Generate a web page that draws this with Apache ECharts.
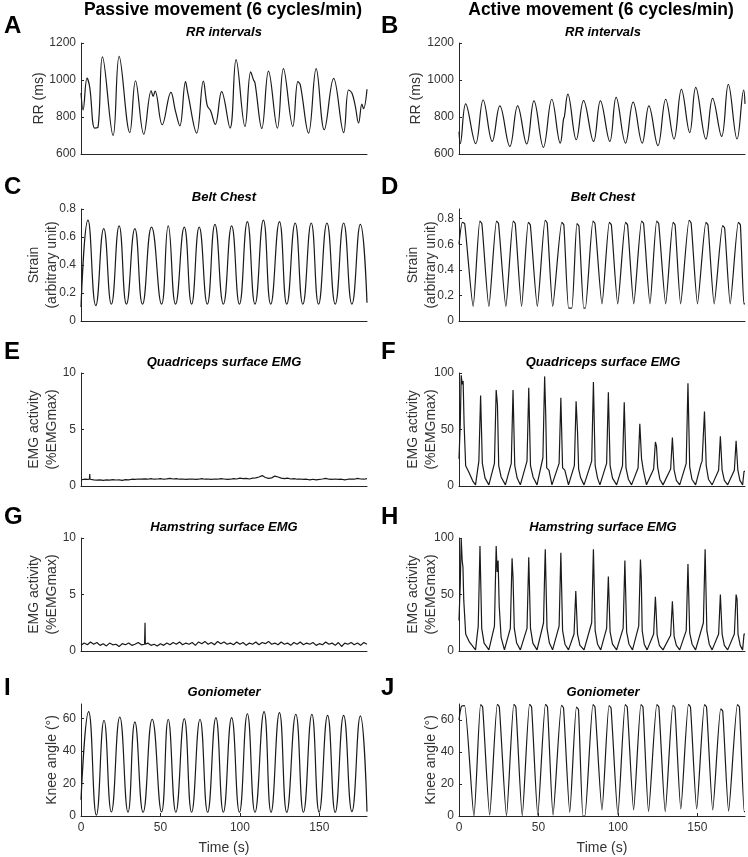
<!DOCTYPE html>
<html>
<head>
<meta charset="utf-8">
<script src="https://cdn.jsdelivr.net/npm/echarts@6/dist/echarts.min.js"></script>
<style>
  html, body { margin: 0; padding: 0; background: #fff; }
  #chart { width: 748px; height: 857px; }
</style>
</head>
<body>
<div id="chart"></div>
<script>
// ---- tick labels ----
const timeTicks = [0, 50, 100, 150];
const rrTicks = [600, 800, 1000, 1200];
const strainTicks = [0, 0.2, 0.4, 0.6, 0.8];
const emgPassiveTicks = [0, 5, 10];
const emgActiveTicks = [0, 50, 100];
const kneeTicks = [0, 20, 40, 60];

// ---- text ----
const columnTitles = ['Passive movement (6 cycles/min)', 'Active movement (6 cycles/min)'];
const panelLetters = ['A', 'B', 'C', 'D', 'E', 'F', 'G', 'H', 'I', 'J'];
const panelTitles = ['RR intervals', 'Belt Chest', 'Quadriceps surface EMG', 'Hamstring surface EMG', 'Goniometer'];

// ---- series, [time s, value] ----
const rrPassive = [
  [0, 930], [1.3, 838], [3.8, 1010], [5.5, 960], [8.6, 740], [10.7, 745], [13.5, 1125], [20.2, 700],
  [24.0, 1128], [30.7, 716], [34.3, 996], [39.5, 707], [44.2, 942], [45.4, 912], [46.6, 940], [51.1, 758],
  [56.6, 933], [59.5, 830], [62.2, 752], [65.8, 991], [67.2, 930], [72.8, 713], [77.0, 994], [79.5, 860],
  [81.5, 835], [84.5, 760], [88.5, 937], [93.8, 740], [97.6, 1110], [103.2, 749], [106.8, 1044], [108.6, 1000],
  [109.5, 985], [113.8, 738], [118.0, 1048], [123.6, 740], [127.4, 1062], [133.3, 749], [136.5, 991], [138.0, 975],
  [143.2, 713], [148.0, 1062], [153.1, 731], [159.0, 1009], [165.3, 716], [168.4, 946], [170.5, 930], [172.6, 860],
  [174.7, 767], [176.8, 870], [177.8, 845], [180, 950]
];
const rrActive = [
  [0, 720], [0.8, 656], [4.2, 871], [10.5, 656], [15.2, 892], [20.9, 668], [25.7, 860], [32.0, 641],
  [36.9, 860], [42.6, 654], [47.2, 887], [53.1, 636], [58.4, 896], [63.7, 659], [65.8, 790], [66.3, 800],
  [68.5, 924], [73.8, 677], [78.4, 889], [84.7, 668], [89.0, 887], [94.9, 668], [98.9, 906], [104.8, 659],
  [109.6, 880], [115.3, 659], [119.5, 860], [125.2, 645], [130.1, 896], [135.3, 681], [140.0, 949], [145.2, 716],
  [149.0, 960], [155.4, 681], [159.6, 901], [165.3, 695], [169.5, 976], [175.0, 681], [179.2, 946], [180, 871]
];
const beltPassive = [
  [0, 0.1], [4.4, 0.72], [9.3, 0.11], [14.3, 0.66], [19.1, 0.12], [24.0, 0.68], [28.6, 0.12], [33.9, 0.66],
  [38.7, 0.12], [44.4, 0.67], [50.7, 0.12], [54.9, 0.68], [59.5, 0.12], [65.0, 0.67], [69.6, 0.12], [74.4, 0.67],
  [79.5, 0.12], [84.3, 0.69], [89.6, 0.12], [94.8, 0.68], [99.7, 0.12], [104.7, 0.71], [109.5, 0.12], [114.8, 0.72],
  [119.4, 0.12], [124.9, 0.71], [129.5, 0.12], [134.8, 0.70], [139.6, 0.12], [144.9, 0.70], [149.5, 0.12], [154.8, 0.70],
  [160.0, 0.12], [165.3, 0.70], [170.5, 0.12], [175.8, 0.69], [180, 0.13]
];
const beltActive = [
  [0, 0.6], [2.1, 0.77], [3.6, 0.76], [8.9, 0.114], [13.1, 0.78], [14.4, 0.76], [18.8, 0.114], [23.6, 0.78],
  [24.9, 0.76], [29.5, 0.114], [34.1, 0.78], [35.4, 0.76], [39.4, 0.114], [43.6, 0.77], [44.9, 0.75], [49.3, 0.114],
  [54.2, 0.787], [55.5, 0.765], [59.0, 0.114], [64.7, 0.77], [66.0, 0.75], [69.0, 0.10], [71.0, 0.10], [74.2, 0.76],
  [75.5, 0.74], [78.5, 0.10], [79.5, 0.10], [84.3, 0.78], [85.6, 0.76], [90.0, 0.134], [94.6, 0.77], [95.9, 0.75],
  [99.9, 0.134], [104.8, 0.77], [106.1, 0.75], [110.0, 0.134], [114.9, 0.78], [116.2, 0.76], [120.2, 0.134], [124.4, 0.78],
  [125.7, 0.76], [130.1, 0.134], [134.7, 0.77], [136.0, 0.75], [139.5, 0.134], [144.8, 0.787], [146.1, 0.765], [150.1, 0.134],
  [155.4, 0.77], [156.7, 0.75], [160.6, 0.134], [165.9, 0.745], [167.2, 0.725], [170.7, 0.134], [175.8, 0.77], [177.1, 0.75],
  [179.3, 0.134], [180, 0.134]
];
// passive EMG: one value every 2 s from 0 to 180, plus isolated spikes
const emgQuadPassive = [
  0.55, 0.60, 0.58, 0.60, 0.55, 0.52, 0.55, 0.50, 0.55, 0.52,
  0.56, 0.53, 0.55, 0.50, 0.56, 0.55, 0.60, 0.58, 0.62, 0.60,
  0.63, 0.60, 0.66, 0.60, 0.62, 0.65, 0.60, 0.63, 0.68, 0.62,
  0.65, 0.60, 0.62, 0.58, 0.60, 0.62, 0.58, 0.60, 0.65, 0.60,
  0.62, 0.58, 0.62, 0.60, 0.66, 0.62, 0.58, 0.60, 0.65, 0.62,
  0.70, 0.65, 0.68, 0.62, 0.70, 0.72, 0.80, 0.92, 0.75, 0.68,
  0.72, 0.88, 0.80, 0.70, 0.65, 0.70, 0.62, 0.65, 0.60, 0.62,
  0.58, 0.60, 0.55, 0.60, 0.55, 0.58, 0.62, 0.68, 0.60, 0.58,
  0.62, 0.58, 0.60, 0.55, 0.60, 0.62, 0.60, 0.68, 0.62, 0.60,
  0.65
];
const emgQuadPassiveSpikes = [[5.3, 0.6], [5.5, 1.05], [5.7, 0.6]];
const emgHamPassive = [
  0.50, 0.70, 0.55, 0.80, 0.60, 0.75, 0.50, 0.65, 0.45, 0.70,
  0.55, 0.60, 0.40, 0.65, 0.55, 0.70, 0.50, 0.60, 0.75, 0.55,
  0.60, 0.70, 0.50, 0.60, 0.45, 0.65, 0.50, 0.70, 0.55, 0.75,
  0.60, 0.80, 0.55, 0.70, 0.60, 0.75, 0.50, 0.80, 0.65, 0.85,
  0.60, 0.75, 0.55, 0.85, 0.65, 0.80, 0.60, 0.70, 0.55, 0.80,
  0.60, 0.75, 0.50, 0.70, 0.60, 0.80, 0.55, 0.75, 0.65, 0.85,
  0.60, 0.70, 0.55, 0.80, 0.60, 0.70, 0.50, 0.75, 0.60, 0.80,
  0.55, 0.70, 0.60, 0.75, 0.50, 0.65, 0.55, 0.80, 0.60, 0.70,
  0.50, 0.75, 0.40, 0.70, 0.60, 0.75, 0.55, 0.70, 0.50, 0.75,
  0.60
];
const emgHamPassiveSpikes = [[40.1, 0.6], [40.3, 2.5], [40.5, 0.6]];
const emgQuadActive = [
  [0, 24], [0.8, 55], [1.4, 98], [2.0, 90], [2.6, 93], [3.2, 55], [4.2, 18], [6.3, 12], [8.8, 4], [10.4, 1],
  [12.5, 22], [13.6, 80], [14.7, 20], [16.4, 7], [18.8, 1],
  [22.3, 20], [23.4, 85], [24.2, 72], [25.0, 18], [26.5, 8], [29.2, 1],
  [32.9, 20], [34.0, 85], [35.1, 18], [36.6, 7], [38.6, 1],
  [42.8, 22], [43.9, 87], [45.0, 18], [46.6, 8], [49.1, 1],
  [52.8, 25], [53.9, 97], [54.6, 62], [55.2, 16], [56.6, 14], [58.5, 1],
  [63.0, 20], [64.1, 78], [65.2, 16], [66.6, 14], [68.9, 1],
  [72.6, 18], [73.7, 75], [74.6, 48], [75.3, 15], [76.6, 7], [78.7, 1],
  [83.5, 22], [84.6, 92], [85.7, 18], [87.2, 7], [88.7, 1],
  [92.9, 20], [94.0, 83], [95.1, 18], [96.6, 7], [99.2, 1],
  [102.9, 18], [104.0, 74], [105.1, 16], [106.6, 6], [108.6, 1],
  [112.7, 16], [113.8, 55], [114.9, 24], [116.0, 14], [118.0, 1],
  [122.5, 15], [123.6, 39], [124.3, 35], [125.0, 17], [126.4, 6], [128.4, 1],
  [133.2, 15], [134.3, 43], [135.4, 14], [136.8, 5], [138.9, 1],
  [143.0, 20], [144.1, 91], [145.2, 17], [146.6, 6], [148.9, 1],
  [152.4, 20], [153.0, 22], [154.5, 66], [155.6, 18], [157.0, 6], [159.3, 1],
  [163.4, 14], [164.5, 44], [165.6, 14], [167.0, 5], [169.1, 1],
  [173.3, 14], [174.4, 40], [175.5, 14], [176.8, 5], [178.5, 1], [179.4, 13], [180, 13]
];
const emgHamActive = [
  [0, 27], [0.8, 60], [1.4, 99], [2.0, 80], [2.5, 74], [3.0, 45], [4.2, 15], [6.5, 8], [10.4, 1],
  [12.1, 22], [13.2, 93], [14.3, 20], [15.8, 7], [18.8, 1],
  [22.3, 22], [23.4, 93], [24.0, 70], [24.6, 80], [25.3, 40], [26.5, 12], [28.6, 1],
  [32.3, 20], [33.4, 82], [34.0, 65], [34.8, 20], [36.3, 7], [38.6, 1],
  [42.8, 20], [43.9, 83], [45.0, 20], [46.5, 7], [49.1, 1],
  [53.2, 25], [54.0, 75], [54.3, 90], [55.4, 20], [56.9, 7], [58.9, 1],
  [63.0, 22], [64.1, 87], [65.2, 18], [66.7, 6], [68.9, 1],
  [72.4, 15], [73.5, 53], [74.6, 15], [76.1, 5], [78.7, 1],
  [83.5, 25], [84.6, 90], [85.7, 18], [87.2, 6], [89.2, 1],
  [92.9, 20], [94.0, 66], [95.1, 17], [96.6, 6], [99.2, 1],
  [103.3, 20], [104.4, 80], [105.5, 17], [107.0, 6], [109.2, 1],
  [113.1, 22], [114.2, 81], [114.7, 65], [115.3, 18], [116.6, 6], [118.4, 1],
  [122.5, 15], [123.6, 48], [124.0, 37], [124.7, 14], [126.1, 5], [128.4, 1],
  [133.2, 14], [134.3, 44], [135.4, 13], [136.8, 5], [138.9, 1],
  [143.0, 18], [144.1, 77], [145.2, 16], [146.7, 6], [148.9, 1],
  [153.8, 25], [154.9, 90], [156.0, 18], [157.5, 6], [159.3, 1],
  [163.4, 15], [164.5, 50], [165.6, 15], [167.0, 5], [169.1, 1],
  [173.3, 15], [174.4, 50], [175.0, 46], [175.6, 15], [177.0, 5], [178.5, 1], [179.4, 15], [180, 15]
];
const kneePassive = [
  [0, 10], [4.8, 64.3], [9.7, 0.5], [14.5, 59], [19.1, 2.5], [24.4, 61], [29.6, 2.3], [33.9, 58],
  [39.1, 2.3], [44.8, 59.6], [50.7, 2.5], [54.9, 59.6], [59.7, 2.3], [65.0, 60], [69.6, 2.3], [74.9, 59.6],
  [79.7, 2.3], [84.9, 60.6], [89.6, 2.3], [94.8, 60.6], [99.7, 2.3], [104.7, 63], [109.5, 2.3], [115.2, 64.3],
  [119.6, 2.3], [124.9, 63.7], [129.5, 2.3], [135.2, 62.7], [140.0, 2.3], [145.3, 62.7], [149.9, 2.3], [155.2, 62],
  [160.0, 2.3], [165.3, 62], [170.5, 2.7], [175.8, 61.7], [180, 2.7]
];
const kneeActive = [
  [0, 60], [1.5, 68.5], [3.5, 69], [9.4, 0], [13.6, 69.6], [14.9, 68], [19.3, 0.6], [24.1, 69.8],
  [25.4, 68], [29.9, 0.2], [34.5, 69.8], [35.8, 68], [39.8, 0.2], [44.4, 69.8], [45.7, 68], [49.6, 0.5],
  [54.4, 69.8], [55.7, 68], [59.2, 0.5], [64.5, 69.2], [65.8, 67.5], [69.7, 2.3], [73.9, 68], [75.2, 66.5],
  [78.0, 0], [79.2, 0], [84.3, 69.6], [85.6, 68], [90.0, 3.8], [94.4, 69], [95.7, 67.5], [100.0, 1],
  [104.6, 69.6], [105.9, 68], [109.9, 3.8], [114.5, 69.6], [115.8, 68], [119.3, 2.7], [124.5, 69.6], [125.8, 68],
  [129.8, 2.7], [134.6, 69.2], [135.9, 67.5], [139.6, 4.4], [144.4, 69.8], [145.7, 68], [149.6, 4.4], [154.5, 69.6],
  [155.8, 68], [159.7, 3.8], [164.7, 67], [166.0, 65.5], [169.7, 3.1], [175.2, 69.6], [176.5, 68], [179.5, 2.7],
  [180, 2.7]
];

// passive EMG arrays are sampled every 2 s; merge in the spikes
function sampled(values, spikes) {
  const pts = values.map((v, i) => [i * 2, v]).concat(spikes);
  return pts.sort((a, b) => a[0] - b[0]);
}

// ---- layout ----
const colLeft = [81, 459];
const plotWidth = 286;
const rowTop = [43, 209, 373, 538, 704];
const rowHeight = [111, 112, 113, 113, 112];
const font = 'Liberation Sans, Arial, Helvetica, sans-serif';
const ink = '#262626';
const plain = v => String(v);

const panels = [
  { data: rrPassive, min: 600, max: 1200, ticks: rrTicks, name: 'RR (ms)', gap: 33, smooth: 0.4 },
  { data: rrActive, min: 600, max: 1200, ticks: rrTicks, name: 'RR (ms)', gap: 34, smooth: 0.4 },
  { data: beltPassive, min: 0, max: 0.8, ticks: strainTicks, name: 'Strain\n(arbitrary unit)', gap: 20, smooth: 0.5 },
  { data: beltActive, min: 0, max: 0.875, ticks: strainTicks, name: 'Strain\n(arbitrary unit)', gap: 19, smooth: 0.2 },
  { data: sampled(emgQuadPassive, emgQuadPassiveSpikes), min: 0, max: 10, ticks: emgPassiveTicks, name: 'EMG activity\n(%EMGmax)', gap: 20, smooth: false },
  { data: emgQuadActive, min: 0, max: 100, ticks: emgActiveTicks, name: 'EMG activity\n(%EMGmax)', gap: 19, smooth: false },
  { data: sampled(emgHamPassive, emgHamPassiveSpikes), min: 0, max: 10, ticks: emgPassiveTicks, name: 'EMG activity\n(%EMGmax)', gap: 20, smooth: false },
  { data: emgHamActive, min: 0, max: 100, ticks: emgActiveTicks, name: 'EMG activity\n(%EMGmax)', gap: 19, smooth: false },
  { data: kneePassive, min: 0, max: 69, ticks: kneeTicks, name: 'Knee angle (°)', gap: 20, smooth: 0.5, time: true },
  { data: kneeActive, min: 0, max: 70, ticks: kneeTicks, name: 'Knee angle (°)', gap: 19, smooth: 0.2, time: true }
];

const grids = [], xAxes = [], yAxes = [], series = [];
panels.forEach((p, i) => {
  const col = i % 2, row = Math.floor(i / 2);
  grids.push({ left: colLeft[col], top: rowTop[row], width: plotWidth, height: rowHeight[row] });
  xAxes.push({
    gridIndex: i, type: 'value', min: 0, max: 180,
    axisLine: { onZero: false, lineStyle: { color: ink, width: 1 } },
    axisTick: { show: !!p.time, inside: true, length: 3, customValues: timeTicks, lineStyle: { color: ink } },
    axisLabel: { show: !!p.time, customValues: timeTicks, formatter: plain, margin: 6, fontSize: 12, color: '#333', fontFamily: font },
    splitLine: { show: false },
    name: p.time ? 'Time (s)' : '', nameLocation: 'middle', nameGap: 25, nameMoveOverlap: false,
    nameTextStyle: { fontSize: 14, color: '#333', fontFamily: font }
  });
  yAxes.push({
    gridIndex: i, type: 'value', min: p.min, max: p.max,
    axisLine: { show: true, onZero: false, lineStyle: { color: ink, width: 1 } },
    axisTick: { show: true, inside: true, length: 3, customValues: p.ticks, lineStyle: { color: ink } },
    axisLabel: { customValues: p.ticks, formatter: plain, margin: 5, fontSize: 12, color: '#333', fontFamily: font },
    splitLine: { show: false },
    name: p.name, nameLocation: 'middle', nameRotate: 90, nameGap: p.gap, nameMoveOverlap: false,
    nameTextStyle: { fontSize: 14, color: '#333', fontFamily: font, lineHeight: 18 }
  });
  series.push({
    type: 'line', xAxisIndex: i, yAxisIndex: i, data: p.data,
    showSymbol: false, smooth: p.smooth, silent: true,
    lineStyle: { color: '#1a1a1a', width: 1.2 }
  });
});

// titles and panel letters
const graphics = [];
const titleX = [223, 601];
const subX = [224, 603];
const letterX = [4, 381];
const letterY = [26.5, 187, 352, 517.5, 688];
const subY = [32, 197, 362, 527, 692];
columnTitles.forEach((t, c) => {
  graphics.push({ type: 'text', x: titleX[c], y: 10,
    style: { text: t, fill: '#000', font: 'bold 17.5px ' + font, align: 'center', verticalAlign: 'middle' } });
});
panelLetters.forEach((t, i) => {
  graphics.push({ type: 'text', x: letterX[i % 2], y: letterY[Math.floor(i / 2)],
    style: { text: t, fill: '#000', font: 'bold 24px ' + font, align: 'left', verticalAlign: 'middle' } });
});
panelTitles.forEach((t, r) => {
  [0, 1].forEach(c => {
    graphics.push({ type: 'text', x: subX[c], y: subY[r],
      style: { text: t, fill: '#000', font: 'italic bold 13px ' + font, align: 'center', verticalAlign: 'middle' } });
  });
});

const chart = echarts.init(document.getElementById('chart'), null, { renderer: 'canvas' });
chart.setOption({
  animation: false,
  backgroundColor: '#fff',
  textStyle: { fontFamily: font },
  grid: grids,
  xAxis: xAxes,
  yAxis: yAxes,
  series: series,
  graphic: graphics
});
</script>
</body>
</html>
